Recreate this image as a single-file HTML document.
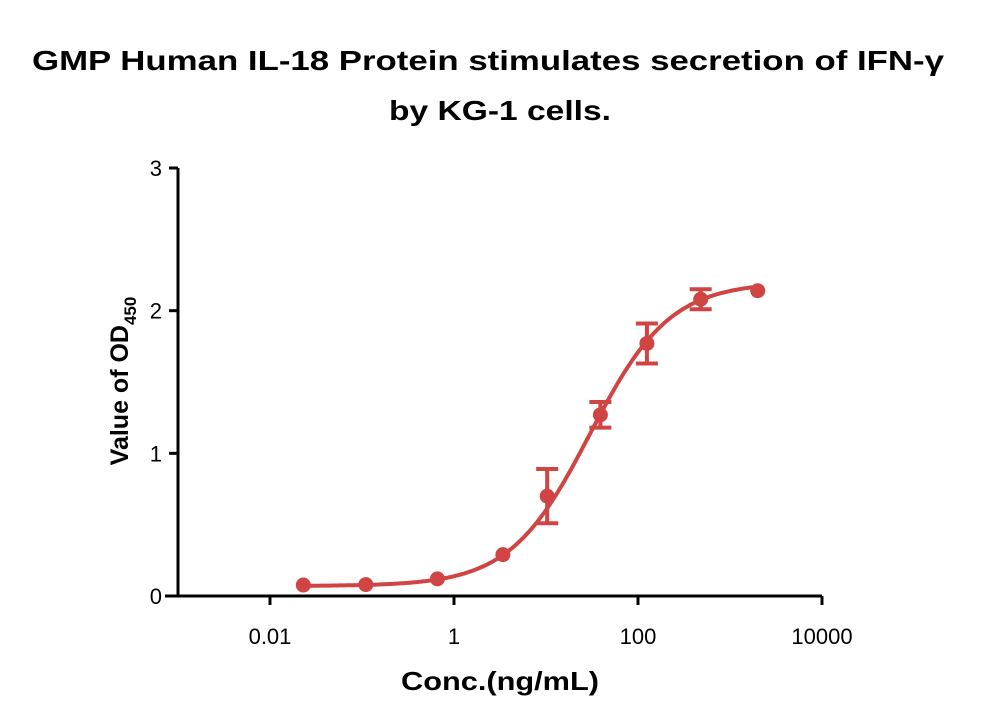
<!DOCTYPE html>
<html><head><meta charset="utf-8"><style>
body{margin:0;background:#fff;}
svg{display:block;font-family:"Liberation Sans",sans-serif;}
</style></head><body>
<svg id="chart" width="1000" height="728" viewBox="0 0 1000 728">
<text x="488" y="70" text-anchor="middle" font-size="28" font-weight="bold" textLength="912" lengthAdjust="spacingAndGlyphs">GMP Human IL-18 Protein stimulates secretion of IFN-γ</text>
<text x="500" y="120" text-anchor="middle" font-size="28" font-weight="bold" textLength="222" lengthAdjust="spacingAndGlyphs">by KG-1 cells.</text>
<text transform="translate(128,381) rotate(-90)" text-anchor="middle" font-size="25" font-weight="bold">Value of OD<tspan font-size="17" dy="8">450</tspan></text>
<text x="500" y="690" text-anchor="middle" font-size="26" font-weight="bold" textLength="198" lengthAdjust="spacingAndGlyphs">Conc.(ng/mL)</text>
<g id="axes" stroke="#000" stroke-width="3" fill="none"></g>
<g id="labels" font-size="22" fill="#000"></g>
<g id="plot"></g>
</svg>
<script>
const concs=[0.023,0.11,0.66,3.4,10.3,39,125,480,2000];
const means=[0.077,0.08,0.12,0.29,0.70,1.27,1.77,2.08,2.14];
const errs=[0,0,0,0,0.19,0.09,0.14,0.07,0];
const fitBottom=0.07, fitTop=2.20, fitEC50=30, fitHill=1.0;
const xTicks=[0.01,1,100,10000];
const xTickLabels=["0.01","1","100","10000"];
const yTicks=[0,1,2,3];
const yTickLabels=["0","1","2","3"];
const NS="http://www.w3.org/2000/svg";
const X0=178,X1=822,Y0=596,Y1=168,LMIN=-3,LMAX=4,YMAX=3;
function sx(v){return X0+(Math.log10(v)-LMIN)/(LMAX-LMIN)*(X1-X0);}
function sy(v){return Y0-v/YMAX*(Y0-Y1);}
function mk(tag,attrs,parent){const e=document.createElementNS(NS,tag);for(const k in attrs)e.setAttribute(k,attrs[k]);parent.appendChild(e);return e;}
const axes=document.getElementById('axes'),labels=document.getElementById('labels'),plot=document.getElementById('plot');
let a=mk('line',{x1:165,y1:Y0,x2:X1,y2:Y0},axes);


a=mk('line',{x1:X0,y1:Y1,x2:X0,y2:Y0+1},axes);


xTicks.forEach((t,i)=>{
 const l=mk('line',{x1:sx(t),y1:Y0,x2:sx(t),y2:Y0+9},axes);
 
 
 const tx=mk('text',{x:sx(t),y:Y0+48,'text-anchor':'middle'},labels);
 tx.textContent=xTickLabels[i];
 
 
});
yTicks.forEach((t,i)=>{
 const l=mk('line',{x1:X0-9,y1:sy(t),x2:X0,y2:sy(t)},axes);
 
 
 const tx=mk('text',{x:X0-16,y:sy(t)+8,'text-anchor':'end'},labels);
 tx.textContent=yTickLabels[i];
 
 
});
const col="#d04444";
let d="";const lmin=Math.log10(concs[0]),lmax=Math.log10(concs[concs.length-1]);
for(let i=0;i<=200;i++){const lx=lmin+(lmax-lmin)*i/200;const x=Math.pow(10,lx);
 const y=fitBottom+(fitTop-fitBottom)/(1+Math.pow(fitEC50/x,fitHill));
 d+=(i?"L":"M")+sx(x).toFixed(1)+","+sy(y).toFixed(1);}
const c=mk('path',{d:d,stroke:col,'stroke-width':4,fill:'none'},plot);


concs.forEach((v,i)=>{
 const x=sx(v);
 if(errs[i]>0){
  const g=mk('path',{d:`M${x},${sy(means[i]-errs[i])}V${sy(means[i]+errs[i])}M${x-11},${sy(means[i]-errs[i])}h22M${x-11},${sy(means[i]+errs[i])}h22`,stroke:col,'stroke-width':4,fill:'none'},plot);
  
  
 }
 const p=mk('circle',{cx:x,cy:sy(means[i]),r:7.5,fill:col},plot);
 
 
});
</script>
</body></html>
